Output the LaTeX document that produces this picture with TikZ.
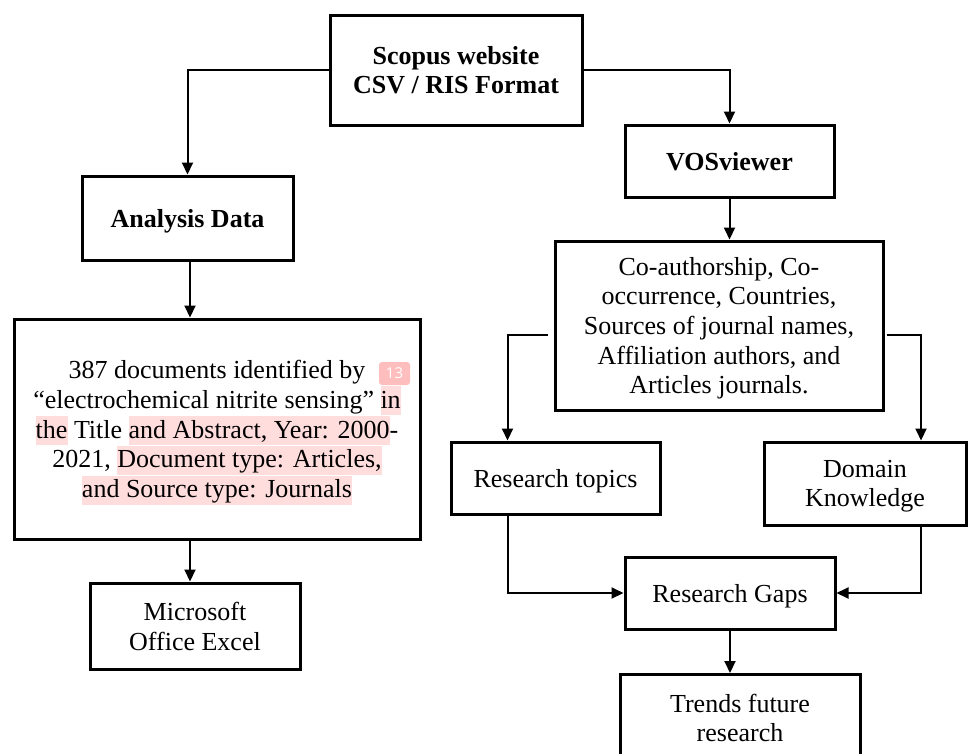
\documentclass[tikz,border=0pt]{standalone}
\usepackage{fontspec}
\setmainfont{Liberation Serif}
\newfontfamily\badgefont{Open Sans}
\usetikzlibrary{arrows.meta,calc}
\definecolor{hl}{RGB}{255,221,221}
\definecolor{badgepink}{RGB}{255,190,190}
\newcommand{\hlt}[1]{{\setlength{\fboxsep}{0pt}\colorbox{hl}{\rule[-7pt]{0pt}{29pt}#1}}}
\begin{document}
\begin{tikzpicture}[x=1pt,y=-1pt,
  box/.style={draw, line width=3pt, align=center, inner sep=0pt, text depth=0pt,
    font=\fontsize{26}{29.7}\selectfont},
  bbox/.style={box, font=\fontsize{26}{29.7}\selectfont\bfseries},
  txt/.style={align=center, inner sep=0pt, font=\fontsize{26}{29.7}\selectfont},
  arr/.style={line width=2pt, -{Triangle[length=12pt,width=11pt]}},
  plain/.style={line width=2pt}]
\clip (0,0) rectangle (968,753);
\fill[white] (0,0) rectangle (968,753);

% left column
\node[bbox, minimum width=252, minimum height=110] (scopus) at (456,70) {Scopus website\\CSV / RIS Format};
\node[bbox, minimum width=211, minimum height=84] (analysis) at (187.5,218) {Analysis Data};
\node[box, minimum width=406, minimum height=220] (docs) at (217,429)
 {387 documents identified by\\
  “electrochemical nitrite sensing” \hlt{in}\\
  \hlt{the} Title \hlt{and Abstract, Year: 2000}-\\
  2021, \hlt{Document type: Articles,}\\
  \hlt{and Source type: Journals}};
\node[fill=badgepink, rounded corners=3pt, minimum width=31, minimum height=23, inner sep=0pt,
  text=white, font=\badgefont\fontsize{15}{15}\selectfont] (badge) at (394.5,373.5) {13};
\node[box, minimum width=210, minimum height=86] (excel) at (195,626) {Microsoft\\Office Excel};

% right column
\node[bbox, minimum width=209, minimum height=72] (vos) at (729.5,161) {VOSviewer};
\node[box, minimum width=328, minimum height=169] (coauth) at (719,325.5)
 {Co-authorship, Co-\\occurrence, Countries,\\Sources of journal names,\\Affiliation authors, and\\Articles journals.};
\node[box, minimum width=209, minimum height=72] (topics) at (555.5,478) {Research topics};
\node[box, minimum width=202, minimum height=83] (domain) at (865,483.5) {Domain\\Knowledge};
\node[box, minimum width=210, minimum height=72] (gaps) at (730,593) {Research Gaps};
\node[box, minimum width=240, minimum height=140, anchor=north] (trends) at (740,673) {};
\node[txt] (trendstext) at (740,718) {Trends future\\research};

% connectors
\coordinate (lx) at (190,0);
\draw[arr] (scopus.west) -| (analysis.north);
\draw[arr] (scopus.east) -| (vos.north);
\draw[arr] (lx |- analysis.south) -- (lx |- docs.north);
\draw[arr] (lx |- docs.south) -- (lx |- excel.north);
\draw[arr] (vos.south) -- (vos.south |- coauth.north);
\draw[arr] ([xshift=-6pt,yshift=-9.5pt]coauth.west) -| ([xshift=-48pt]topics.north);
\draw[arr] ([xshift=2pt,yshift=-9.5pt]coauth.east) -| ([xshift=56pt]domain.north);
\draw[arr] ([xshift=-48pt]topics.south) |- (gaps.west);
\draw[arr] ([xshift=56pt]domain.south) |- (gaps.east);
\draw[arr] (gaps.south) -- (gaps.south |- trends.north);
\end{tikzpicture}
\end{document}
